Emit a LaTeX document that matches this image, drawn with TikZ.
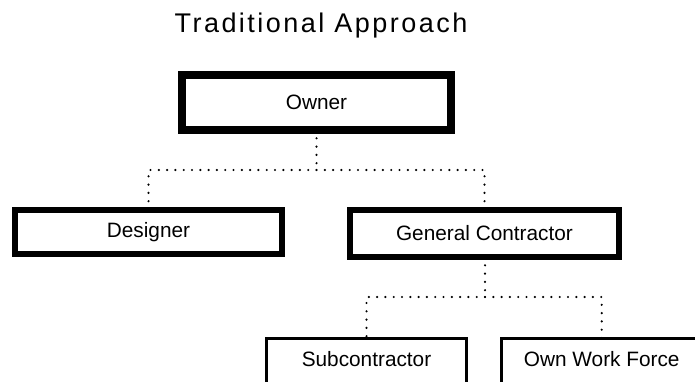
\documentclass[tikz,border=0pt]{standalone}
\usepackage{fontspec}
\setmainfont{Liberation Sans}
\newfontfamily\titlefont[LetterSpace=9.2]{Liberation Sans}
\begin{document}
\begin{tikzpicture}[x=1pt,y=-1pt,
  box/.style={draw=black, fill=white, inner sep=0pt, font=\fontsize{20.8}{24}\selectfont},
  heavybox/.style={box, line width=8pt},
  midbox/.style={box, line width=6.3pt},
  thinbox/.style={box, line width=3.3pt},
  dotline/.style={line width=2.4pt, line cap=round, dash pattern=on 0pt off 8.3pt}]
\useasboundingbox (0,0) rectangle (695,382);
\clip (0,0) rectangle (695,382);
\node[anchor=base, font=\titlefont\fontsize{27}{31}\selectfont] (title) at (321,33) {Traditional Approach};
\coordinate (j1) at (316.5,170);
\coordinate (j2) at (485,297);
\draw[dotline] (316.5,130) -- (j1);
\draw[dotline] (j1) -| (148.5,210);
\draw[dotline] (j1) -| (484.5,210);
\draw[dotline] (485,257) -- (j2);
\draw[dotline] (j2) -| (366.5,338.5);
\draw[dotline] (j2) -| (601.7,338.5);
\node[heavybox, minimum width=269pt, minimum height=55pt] (owner) at (316.5,102.5) {Owner};
\node[midbox, minimum width=267pt, minimum height=44pt] (designer) at (148.5,232) {\raisebox{-1pt}{Designer}};
\node[midbox, minimum width=269pt, minimum height=47pt] (gc) at (484.5,233.5) {General Contractor};
\node[thinbox, minimum width=200pt, minimum height=50pt] (sub) at (366.5,363.5) {\raisebox{9pt}{Subcontractor}};
\node[thinbox, minimum width=200pt, minimum height=50pt] (owf) at (601.7,363.5) {\raisebox{9pt}{Own Work Force}};
\end{tikzpicture}
\end{document}
